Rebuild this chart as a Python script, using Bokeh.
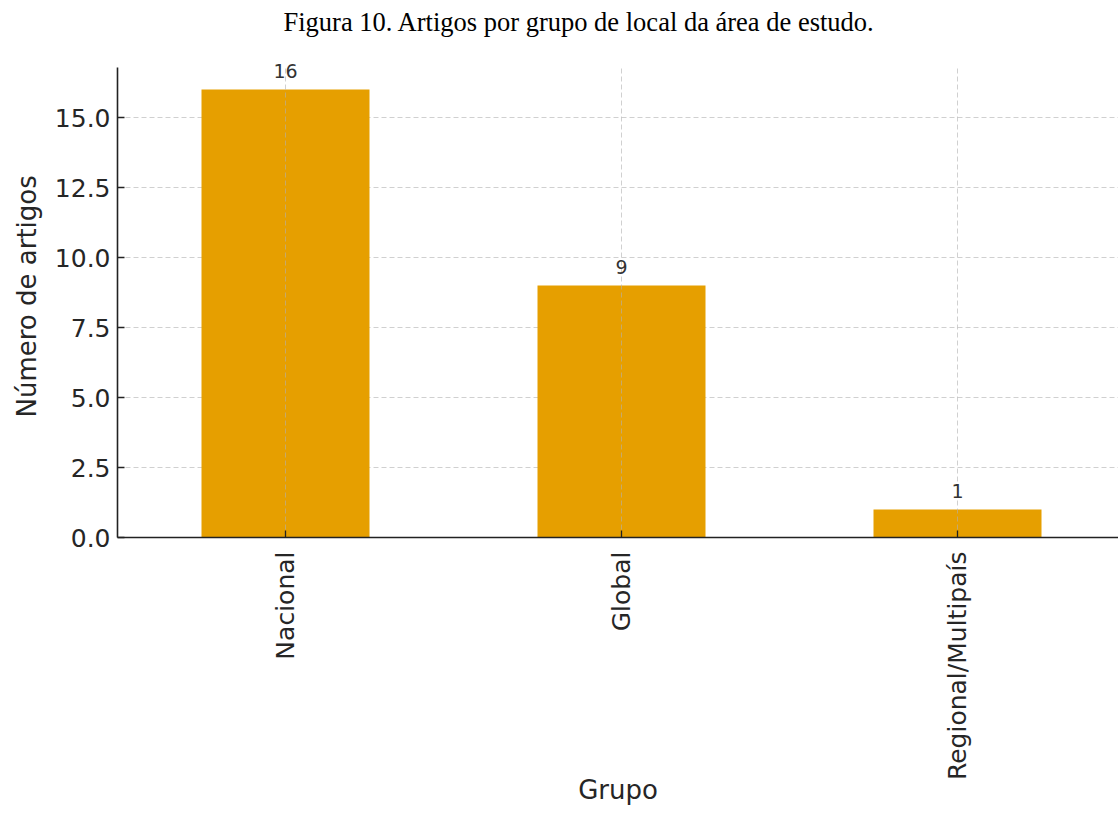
import math
from bokeh.plotting import figure
from bokeh.models import Range1d, FixedTicker, ColumnDataSource, LabelSet, Label, Title
from bokeh.core.properties import value
from bokeh.embed import file_html
from bokeh.resources import INLINE

# Data
categories = ["Nacional", "Global", "Regional/Multipaís"]
counts = [16, 9, 1]
y_ticks = [0.0, 2.5, 5.0, 7.5, 10.0, 12.5, 15.0]
title_text = "Figura 10. Artigos por grupo de local da área de estudo."
x_label = "Grupo"
y_label = "Número de artigos"

positions = list(range(len(categories)))
y_axis_top = max(counts) * 1.05  # matplotlib-style 5% headroom

source = ColumnDataSource(dict(
    x=positions,
    top=counts,
    label=[str(c) for c in counts],
    y0=[0] * len(positions),
    y1=[y_axis_top] * len(positions),
))

FONT = "DejaVu Sans"
INK = "#262626"
GRID = "#b0b0b0"

W, H = 1118, 829
FRAME_LEFT, FRAME_BOTTOM = 117, 537
PX_PER_CAT = 336
PX_PER_UNIT = 28

p = figure(
    width=W, height=H,
    output_backend="svg", toolbar_location=None,
    x_range=Range1d(-0.5, -0.5 + (W - FRAME_LEFT) / PX_PER_CAT),
    y_range=Range1d(0, FRAME_BOTTOM / PX_PER_UNIT),
    min_border_left=FRAME_LEFT, min_border_right=0,
    min_border_top=0, min_border_bottom=H - FRAME_BOTTOM,
)
p.outline_line_color = None
p.background_fill_color = "white"
p.border_fill_color = "white"

p.vbar(x="x", top="top", width=0.5, bottom=0, source=source,
       fill_color="#E69F00", line_color=None)

# vertical grid lines (drawn over bars, up to the axis top)
p.segment(x0="x", y0="y0", x1="x", y1="y1", source=source,
          line_color=GRID, line_alpha=0.6, line_dash="5 3", line_width=1)

labels = LabelSet(x="x", y="top", text="label", source=source,
                  text_align="center", text_baseline="alphabetic",
                  y_offset=12, text_font=value(FONT), text_font_size="19px",
                  text_color="#333333", level="overlay")
p.add_layout(labels)

title = Label(x=166, y=516, x_units="screen", y_units="screen",
              text=title_text, text_font="Liberation Serif",
              text_font_size="26.5px", text_color="#000000",
              text_align="left", text_baseline="alphabetic")
p.add_layout(title)

# Axes
for ax in (p.xaxis[0], p.yaxis[0]):
    ax.axis_line_color = "#222222"
    ax.axis_line_width = 1.6
    ax.major_tick_line_color = "#222222"
    ax.major_tick_line_width = 1.3
    ax.major_tick_in = 7
    ax.major_tick_out = 0
    ax.minor_tick_line_color = None
    ax.major_label_text_font = FONT
    ax.major_label_text_font_size = "25px"
    ax.major_label_text_color = INK
    ax.axis_label_text_font = FONT
    ax.axis_label_text_font_size = "26px"
    ax.axis_label_text_font_style = "normal"
    ax.axis_label_text_color = INK

p.xaxis.ticker = FixedTicker(ticks=positions)
p.xaxis.major_label_overrides = {i: c for i, c in zip(positions, categories)}
p.xaxis.major_label_orientation = math.pi / 2
p.xaxis.major_label_standoff = 14
p.xaxis.axis_label = x_label
p.xaxis.axis_label_standoff = -8

p.yaxis.ticker = FixedTicker(ticks=y_ticks)
p.yaxis.major_label_overrides = {t: f"{t:.1f}" for t in y_ticks}
p.yaxis.major_label_standoff = 7
p.yaxis.bounds = (0, y_axis_top)

# y-axis label as a left-side title so it can be centred on the drawn axis
ylab = Title(text=y_label, align="left", offset=120, vertical_align="bottom",
             standoff=19, text_font=FONT, text_font_size="26px",
             text_font_style="normal", text_color=INK, text_line_height=1.0)
p.add_layout(ylab, "left")

# Grid
p.xgrid.visible = False
p.ygrid.grid_line_color = GRID
p.ygrid.grid_line_alpha = 0.6
p.ygrid.grid_line_dash = "5 3"

open("out.html", "w").write(file_html(p, INLINE))
